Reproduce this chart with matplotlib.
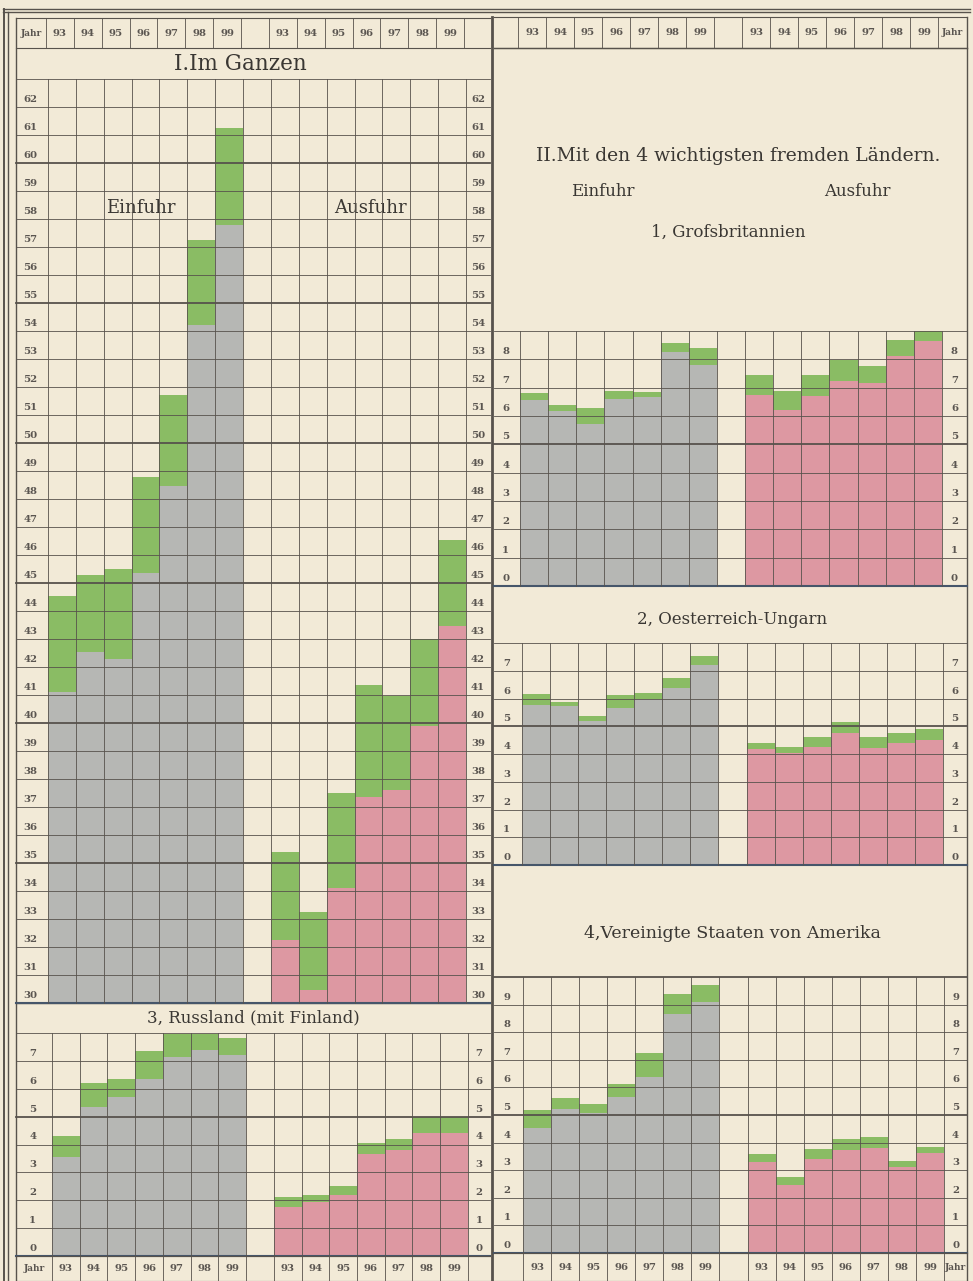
import numpy as np
import matplotlib
matplotlib.use("Agg")
import matplotlib.pyplot as plt

# ---------------- data (Mill. Mark scale as drawn) ----------------
years = ['93', '94', '95', '96', '97', '98', '99']

# I. Im Ganzen
ganz_ein_base = [41.1, 42.55, 42.3, 45.35, 48.45, 54.2, 57.8]
ganz_ein_total = [44.55, 45.3, 45.5, 48.8, 51.7, 57.25, 61.25]
ganz_aus_base = [32.25, 30.45, 34.1, 37.35, 37.6, 39.9, 43.45]
ganz_aus_total = [35.4, 33.25, 37.5, 41.35, 40.95, 43.0, 46.55]

# 1, Grossbritannien
gb_ein_base = [6.56, 6.16, 5.71, 6.6, 6.68, 8.27, 7.81]
gb_ein_total = [6.81, 6.38, 6.27, 6.89, 6.83, 8.57, 8.39]
gb_aus_base = [6.74, 6.22, 6.69, 7.22, 7.16, 8.11, 8.63]
gb_aus_total = [7.45, 6.89, 7.45, 7.98, 7.75, 8.7, 9.0]

# 2, Oesterreich-Ungarn
ou_ein_base = [5.76, 5.74, 5.19, 5.65, 5.98, 6.38, 7.19]
ou_ein_total = [6.18, 5.89, 5.37, 6.12, 6.2, 6.74, 7.53]
ou_aus_base = [4.17, 4.05, 4.26, 4.75, 4.23, 4.38, 4.5]
ou_aus_total = [4.41, 4.26, 4.61, 5.16, 4.61, 4.77, 4.89]

# 3, Russland (mit Finland)
ru_ein_base = [3.55, 5.33, 5.69, 6.35, 7.14, 7.38, 7.22]
ru_ein_total = [4.31, 6.21, 6.35, 7.35, 7.98, 7.98, 7.82]
ru_aus_base = [1.76, 1.92, 2.2, 3.67, 3.8, 4.43, 4.4]
ru_aus_total = [2.12, 2.2, 2.5, 4.07, 4.21, 4.97, 4.97]

# 4, Vereinigte Staaten von Amerika
us_ein_base = [4.54, 5.22, 5.06, 5.66, 6.38, 8.67, 9.09]
us_ein_total = [5.18, 5.62, 5.4, 6.11, 7.23, 9.37, 9.7]
us_aus_base = [3.29, 2.47, 3.41, 3.73, 3.82, 3.11, 3.64]
us_aus_total = [3.58, 2.75, 3.76, 4.12, 4.21, 3.34, 3.83]

# ---------------- style ----------------
PAPER = '#f2ead7'
GRAY = '#b6b7b4'
GREEN = '#8abc64'
PINK = '#dd98a2'
LINE = '#57524c'
NUM = '#5a5550'
TXT = '#3a3733'
SERIF = ['DejaVu Serif']

W, H = 973, 1281
fig = plt.figure(figsize=(W / 100, H / 100), dpi=100, facecolor=PAPER)

frame = fig.add_axes([0, 0, 1, 1])
frame.set_xlim(0, W)
frame.set_ylim(H, 0)
frame.axis('off')
frame.set_facecolor(PAPER)


def px_axes(x0, y0, x1, y1, z=2):
    ax = fig.add_axes([x0 / W, 1 - y1 / H, (x1 - x0) / W, (y1 - y0) / H], zorder=z)
    ax.patch.set_alpha(0)
    ax.axis('off')
    return ax


def panel(x0, x1, y0, y1, X0, colw, vmin, vmax, e_base, e_tot, a_base, a_tot):
    ax = px_axes(x0, y0, x1, y1)
    xl = -(X0 - x0) / colw
    xr = (x1 - X0) / colw
    ax.set_xlim(xl, xr)
    ax.set_ylim(vmin, vmax)
    pe = np.arange(7) + 0.5
    pa = np.arange(8, 15) + 0.5
    eb = np.array(e_base); et = np.array(e_tot)
    ab = np.array(a_base); at = np.array(a_tot)
    ax.bar(pe, eb, width=1.0, color=GRAY, lw=0, zorder=1)
    ax.bar(pe, et - eb, bottom=eb, width=1.0, color=GREEN, lw=0, zorder=1)
    ax.bar(pa, ab, width=1.0, color=PINK, lw=0, zorder=1)
    ax.bar(pa, at - ab, bottom=ab, width=1.0, color=GREEN, lw=0, zorder=1)
    for v in range(vmin, vmax + 1):
        lw = 1.3 if (v % 5 == 0) else 0.6
        if v == vmin:
            ax.plot([xl, xr], [v, v], color='#46566a', lw=1.5, zorder=3, clip_on=False)
        else:
            ax.plot([xl, xr], [v, v], color=LINE, lw=lw, zorder=3, clip_on=False)
    for c in range(16):
        ax.plot([c, c], [vmin, vmax], color=LINE, lw=0.6, zorder=3, clip_on=False)
    for v in range(vmin, vmax):
        ax.text(xl / 2 - 0.05, v + 0.27, str(v), ha='center', va='center', fontsize=7.3,
                fontweight='bold', color=NUM, family=SERIF, zorder=4)
        ax.text((15 + xr) / 2, v + 0.27, str(v), ha='center', va='center', fontsize=7.3,
                fontweight='bold', color=NUM, family=SERIF, zorder=4)
    return ax


def header(x0, x1, y0, y1, X0, colw, left_txt, right_txt):
    ax = px_axes(x0, y0, x1, y1)
    xl = -(X0 - x0) / colw
    xr = (x1 - X0) / colw
    ax.set_xlim(xl, xr)
    ax.set_ylim(0, 1)
    for y in (0, 1):
        ax.plot([xl, xr], [y, y], color=LINE, lw=0.8, clip_on=False)
    for c in range(16):
        ax.plot([c, c], [0, 1], color=LINE, lw=0.6, clip_on=False)
    kw = dict(ha='center', va='center', fontsize=7.3, fontweight='bold', color=NUM, family=SERIF)
    for i, yr in enumerate(years):
        ax.text(i + 0.5, 0.5, yr, **kw)
        ax.text(8 + i + 0.5, 0.5, yr, **kw)
    if left_txt:
        ax.text(xl / 2, 0.5, left_txt, **dict(kw, fontsize=6.5))
    if right_txt:
        ax.text((15 + xr) / 2, 0.5, right_txt, **dict(kw, fontsize=6.5))
    return ax


# ---------------- panels ----------------
panel(16, 490, 79, 1003, 48, 27.87, 30, 63,
      ganz_ein_base, ganz_ein_total, ganz_aus_base, ganz_aus_total)
panel(16, 490, 1033, 1256, 52, 27.73, 0, 8,
      ru_ein_base, ru_ein_total, ru_aus_base, ru_aus_total)
panel(494, 967, 331, 586, 520, 28.13, 0, 9,
      gb_ein_base, gb_ein_total, gb_aus_base, gb_aus_total)
panel(494, 967, 643, 865, 522, 28.07, 0, 8,
      ou_ein_base, ou_ein_total, ou_aus_base, ou_aus_total)
panel(494, 967, 977, 1253, 523, 28.07, 0, 10,
      us_ein_base, us_ein_total, us_aus_base, us_aus_total)

header(16, 490, 18, 48, 46, 27.87, 'Jahr', '')
header(494, 967, 17, 48, 518, 28.0, '', 'Jahr')
header(16, 490, 1256, 1281, 52, 27.73, 'Jahr', '')
header(494, 967, 1253, 1281, 523, 28.07, '', 'Jahr')

# ---------------- frame lines ----------------
fl = dict(color=LINE, lw=1.0)
frame.plot([3, 970], [9, 9], **fl)
frame.plot([3, 970], [12, 12], **fl)
frame.plot([4, 4], [9, 1281], color=LINE, lw=1.4)
frame.plot([8, 8], [12, 1281], color=LINE, lw=1.0)
frame.plot([16, 16], [18, 1281], **fl)
frame.plot([967, 967], [17, 1281], **fl)
frame.plot([492, 492], [17, 1281], color=LINE, lw=2.0)
frame.plot([16, 490], [1003, 1003], **fl)
frame.plot([494, 967], [48, 48], **fl)

# ---------------- titles ----------------
frame.text(240, 64, 'I.Im Ganzen', ha='center', va='center', fontsize=15.5,
           color=TXT, family=SERIF)
frame.text(141, 208, 'Einfuhr', ha='center', va='center', fontsize=13,
           color=TXT, family=SERIF)
frame.text(370, 208, 'Ausfuhr', ha='center', va='center', fontsize=13,
           color=TXT, family=SERIF)
frame.text(738, 156, 'II.Mit den 4 wichtigsten fremden Ländern.', ha='center', va='center',
           fontsize=13.5, color=TXT, family=SERIF)
frame.text(603, 192, 'Einfuhr', ha='center', va='center', fontsize=12,
           color=TXT, family=SERIF)
frame.text(857, 192, 'Ausfuhr', ha='center', va='center', fontsize=12,
           color=TXT, family=SERIF)
frame.text(728, 232, '1, Grofsbritannien', ha='center', va='center', fontsize=12,
           color=TXT, family=SERIF)
frame.text(732, 620, '2, Oesterreich-Ungarn', ha='center', va='center', fontsize=12,
           color=TXT, family=SERIF)
frame.text(732, 933, '4,Vereinigte Staaten von Amerika', ha='center', va='center', fontsize=12.5,
           color=TXT, family=SERIF)
frame.text(253, 1018, '3, Russland (mit Finland)', ha='center', va='center', fontsize=12,
           color=TXT, family=SERIF)

fig.savefig('out.png', dpi=100, facecolor=PAPER)
